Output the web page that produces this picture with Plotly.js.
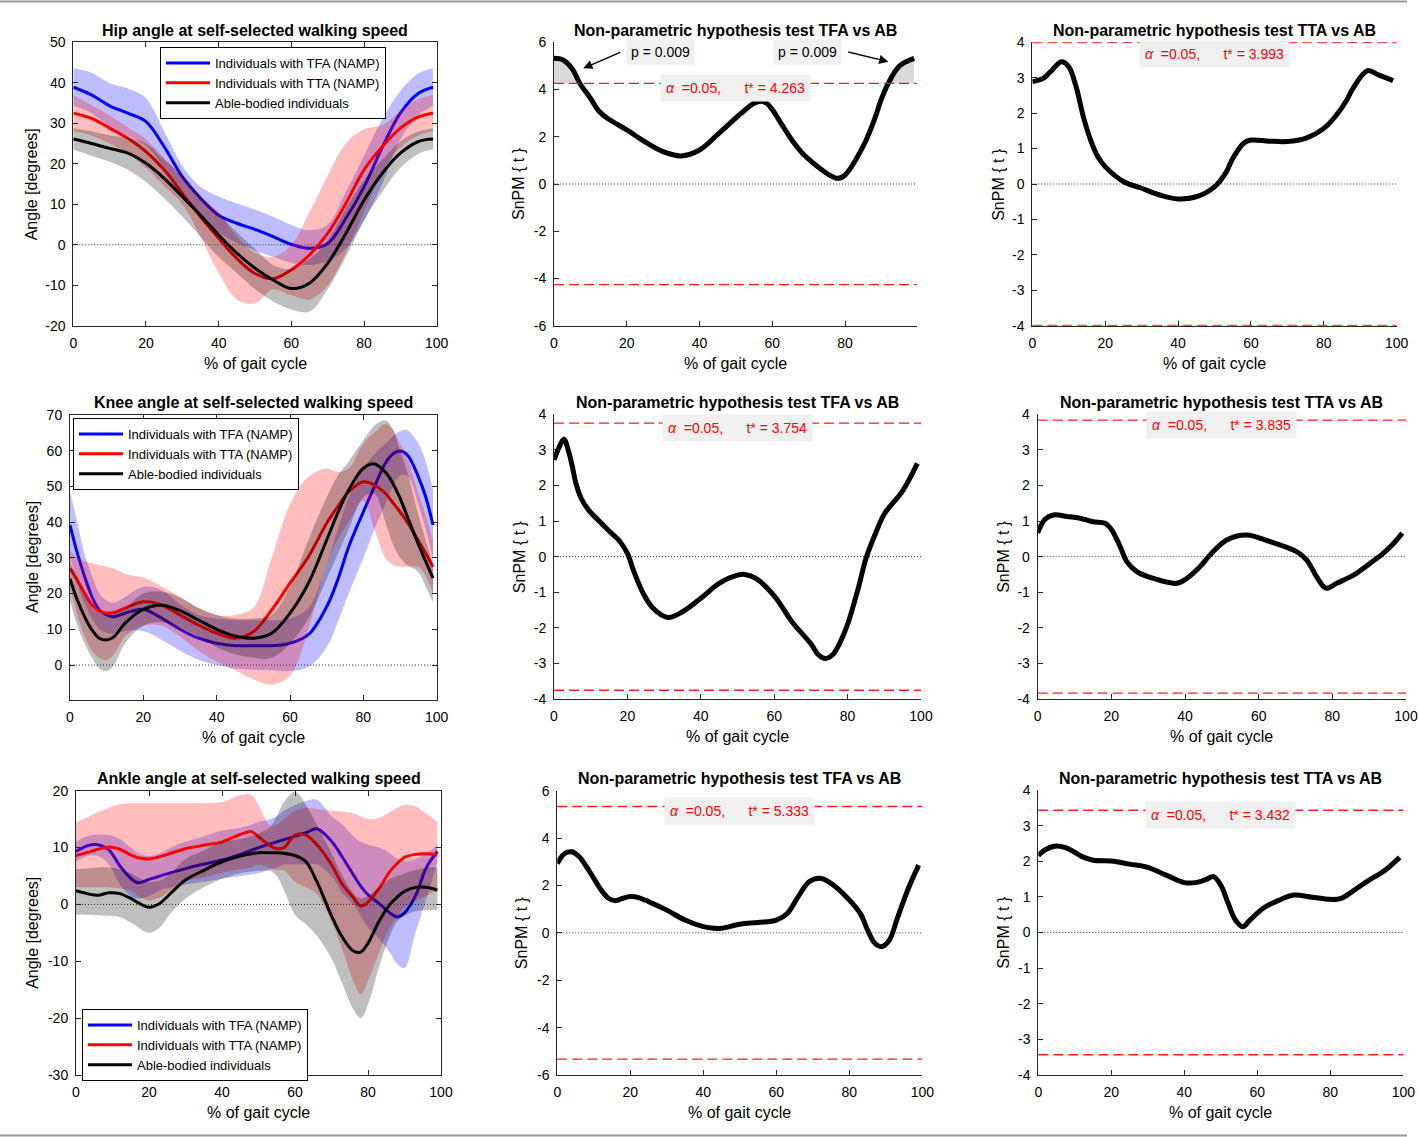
<!DOCTYPE html>
<html><head><meta charset="utf-8">
<script src="https://cdn.plot.ly/plotly-3.0.1.min.js"></script>
<style>html,body{margin:0;padding:0;background:#fff}</style>
</head><body><div id="chart" style="width:1419px;height:1137px"></div>
<script>
// ================= DATA =================
// Hip angle [deg] vs % gait cycle
const hipX = [0,5,10,15,20,25,30,35,40,45,50,55,60,65,70,75,80,85,90,95,99];
const hipTFA   = [38.9,37.0,34.3,32.5,30.4,24.2,16.8,11.5,7.3,5.3,3.8,2.0,0.1,-0.9,0.3,6.5,14.3,24.0,32.5,37.4,38.9];
const hipTFAup = [43.6,42.5,39.9,38.6,36.2,28.0,19.5,14.3,11.9,10.2,8.7,6.9,4.9,3.6,5.0,13.0,22.0,31.0,38.0,42.3,43.6];
const hipTFAlo = [34.3,32.5,29.0,27.0,24.5,19.0,12.5,7.0,3.0,0.5,-1.5,-3.0,-4.5,-5.0,-4.0,-1.0,6.0,15.0,26.0,32.0,34.3];
const hipTTA   = [32.5,31.2,28.8,26.3,23.0,18.5,12.7,6.9,1.6,-3.4,-7.1,-8.4,-6.2,-2.5,2.8,10.2,18.5,24.2,28.8,31.6,32.5];
const hipTTAup = [37.0,34.5,32.0,29.0,26.0,21.5,17.0,12.0,8.0,2.0,-2.0,-3.0,0.0,8.0,17.0,25.0,28.5,29.5,33.0,36.0,37.0];
const hipTTAlo = [28.0,27.0,25.0,22.5,19.0,14.5,10.0,2.0,-7.0,-13.5,-14.5,-11.0,-12.5,-13.5,-10.0,-2.0,8.0,18.0,24.0,27.0,28.0];
const hipAB    = [26.1,25.0,23.8,22.6,20.1,16.4,11.9,7.3,2.4,-2.1,-5.8,-8.7,-10.8,-9.5,-4.6,2.8,11.0,17.6,22.6,25.5,26.1];
const hipABup  = [28.8,28.0,27.0,26.5,25.0,21.0,17.0,12.0,7.5,3.0,-1.0,-5.0,-6.0,-3.5,1.0,9.0,16.0,21.0,25.5,28.0,28.8];
const hipABlo  = [23.5,22.0,20.5,18.5,15.5,11.5,7.0,2.0,-3.0,-7.0,-11.0,-14.0,-16.0,-16.5,-11.0,-3.0,6.0,13.0,19.0,22.5,23.5];

// Knee angle [deg]
const kneeX = [0,2,4,6,8,10,12,15,20,25,30,35,40,45,50,55,60,65,70,73,76,80,83,86,88,90,92,95,97,99];
const kneeTFA   = [39.2,31.3,24.7,19.1,15.4,14.0,13.5,14.5,15.6,13.1,10.0,7.5,6.1,5.4,5.4,5.4,6.1,8.5,16.3,23.8,33.1,42.9,49.9,56.5,59.1,59.9,58.8,52.7,47.1,39.2];
const kneeTFAup = [48.5,40,31,25,20,18,17.5,19,21.9,21,17,14,13,12.5,12.5,12.5,13,16,28,38,47,55,59,62,64,65.5,65.7,62,57,49];
const kneeTFAlo = [30,23,17,13,10,9,8.8,9.5,9.5,7,4,1.5,0,-1,-1.3,-1.5,-1.7,-0.5,5,12,20,30,38,45,50,53,53,45,38,30];
const kneeTTA   = [27.1,23.8,20.1,16.8,15.1,14.5,14.7,15.9,17.7,16.8,14.0,11.2,8.9,7.5,9.3,15.4,22.9,30.3,39.7,44.3,48.5,51.3,50.4,48.1,45.5,42.9,39.9,34.8,31.3,27.5];
const kneeTTAup = [32,30,29,28.5,28,27.5,27,25.5,24.5,22,19,16,14,14,16,30,45,52.7,55,54,55,62,65,67.5,66,62,58,48,42,35];
const kneeTTAlo = [22,14,8,4,2,1.3,3,8,11,11,8,4,1,-1.5,-4,-5.5,-3,10,28,35,40,46,38,30,28,27.5,27.5,27.5,25,20];
const kneeAB    = [24.1,18.2,13.5,9.8,7.5,7.0,7.9,11.7,15.6,16.7,15.2,12.6,10.0,8.1,7.5,8.9,14.5,22.9,35.0,42.5,49.0,55.1,56.3,54,50.9,46.7,41.5,33.8,29,24.3];
const kneeABup  = [29,24,19.5,16,14.5,14,14.5,16,20,20.5,19,16,14,13,13,14,22,35,47,53,57,63,67,68.5,66,60,54,42,35,28];
const kneeABlo  = [18,11,6,2,-1,-1.7,0,6,11,12,10.5,8,5,3,2,2,6,13,24,31,38,47,48,40,34,30,28,26,22,17.5];

// Ankle angle [deg]
const ankX = [0,3,6,9,12,15,17,20,23,26,30,35,40,45,48,50,53,55,57,60,63,66,70,73,76,78,80,83,86,88,90,93,96,99];
const ankTFA   = [9.3,10.3,10.5,9.6,6.8,4.6,3.8,4.4,5.0,5.6,6.3,7.1,7.8,8.8,9.5,10.0,10.6,11.0,11.4,12.0,12.6,13.3,11.1,8.3,5.2,3.2,1.7,0.2,-1.5,-2.2,-1.5,1.5,6.5,9.3];
const ankTFAup = [11,12,12.3,12.2,11.5,10,9,8.5,9,10,11,12,13,13.5,14,14.5,15,15.5,16.5,17.5,18.2,18.4,15.5,14,12,11,10.5,10,9,8,7.6,8,9,10.5];
const ankTFAlo = [7.5,8.5,8.5,7,3.5,1.5,1,1.5,2.5,3,3.5,4,4.5,5,5.3,5.5,6.1,6.5,7,7,7,7,5,2,0,-2,-4,-6,-8.5,-10.5,-11.2,-5,1,7.5];
const ankTTA   = [8.6,9.1,9.7,10.1,9.7,8.7,8.2,8.0,8.4,9.0,9.8,10.4,11.0,12.3,12.8,11.9,10.4,9.8,10.0,12.2,12.2,10.5,7.0,3.5,1.2,-0.3,0.4,2.8,5.8,7.2,8.3,8.8,8.9,8.7];
const ankTTAup = [14.5,15.3,16.2,17,17.6,17.8,17.8,17.8,17.8,17.8,17.8,17.8,18,19.2,19.3,17.5,14,14,15,16.5,17,16.8,16.5,16.3,16,15.5,15,15.2,16.2,17,17.5,17.2,16,14.5];
const ankTTAlo = [3,3,3,3,2.8,2.4,1.5,0.7,1.2,2.5,4.1,4.7,5.6,6.2,6.5,7,6.4,6,6,4,3,1.8,-3,-8,-13.5,-15.8,-13.5,-8.5,-4,-2.3,-0.5,0.6,1.5,2.5];
const ankAB    = [2.4,1.9,1.6,2.05,1.9,1.05,0.3,-0.5,0.2,2.0,4.3,6.0,7.5,8.5,8.9,9.1,9.1,9.1,9.0,8.6,7.5,4.0,-2.0,-5.8,-8.2,-8.4,-6.8,-3.0,0.0,1.3,2.3,3.0,3.0,2.5];
const ankABup  = [6.2,6.3,6.5,6.5,6.2,5.5,4.8,4,4.2,5.5,8,9.5,11,11.5,12,12.5,13.5,15.5,18,19.8,17.5,14,9,5,2,1,1.5,3,4.5,5,5.5,6,6.5,6.5];
const ankABlo  = [-1.8,-1.8,-1.9,-2,-2.2,-3.2,-4,-5,-4,-1.5,1,3,4.5,5.5,5.8,5.9,5.9,5,2.5,-1.8,-3.5,-5.5,-9.5,-14,-18.5,-20,-17.6,-11,-5.5,-3,-2,-1.2,-1,-1];

// SnPM {t} curves
const spmHipTFAx = [0,2.5,5,7,10,12.5,15,20,25,30,35,40,45,50,53,55,57,58.5,60,62.5,65,68,70,75,78,80,85,88,90,92,95,99];
const spmHipTFAy = [5.32,5.25,4.88,4.29,3.63,3.06,2.75,2.29,1.79,1.37,1.19,1.44,2.1,2.8,3.2,3.42,3.5,3.42,3.15,2.55,1.95,1.35,1.05,0.45,0.24,0.38,1.6,2.7,3.6,4.3,5.0,5.32];
const spmHipTTAx = [0,3,5,8,10,12,14,16,18,20,25,30,35,40,45,50,53,55,58,60,65,70,75,80,83.5,86.3,88,92,95,99];
const spmHipTTAy = [2.89,2.98,3.17,3.45,3.31,2.75,1.9,1.24,0.77,0.49,0.07,-0.12,-0.31,-0.42,-0.36,-0.08,0.3,0.72,1.15,1.24,1.21,1.2,1.29,1.57,1.95,2.37,2.7,3.2,3.08,2.92];
const spmKneeTFAx = [0,1.5,2.7,4,5,6,7.5,9.5,12.5,15,18,20,21.6,24.3,27,31,35,40,45,50,52,55,60,65,70,72,74,76,78,80,83,85,88,90,95,99];
const spmKneeTFAy = [2.72,3.1,3.3,2.95,2.53,2.05,1.62,1.3,0.98,0.72,0.42,0.09,-0.37,-1.03,-1.45,-1.71,-1.55,-1.17,-0.75,-0.52,-0.5,-0.61,-1.1,-1.85,-2.45,-2.75,-2.86,-2.75,-2.4,-1.9,-0.85,-0.05,0.75,1.2,1.85,2.62];
const spmKneeTTAx = [0,2,4.3,8,11.5,15,18.3,20.1,22.4,24.2,26.9,31.4,37.7,40.5,44.1,46.8,51.3,56.7,63.1,70.3,73,75.7,77.6,78.5,81.2,85.7,90.2,93.8,96.6,99];
const spmKneeTTAy = [0.67,1.05,1.17,1.13,1.08,0.98,0.94,0.75,0.28,-0.14,-0.42,-0.61,-0.75,-0.61,-0.28,0.05,0.47,0.61,0.42,0.14,-0.09,-0.56,-0.84,-0.89,-0.75,-0.52,-0.19,0.09,0.37,0.66];
const spmAnkTFAx = [0,2,4,6,8,10,12,14,16,18,20,22,25,30,35,40,43,45,50,55,60,63,66,69,72,75,80,83,85,87,89,91,93,96,99];
const spmAnkTFAy = [2.93,3.35,3.42,3.21,2.79,2.3,1.81,1.46,1.36,1.46,1.53,1.5,1.32,0.96,0.54,0.26,0.19,0.19,0.36,0.44,0.54,0.82,1.53,2.16,2.3,2.09,1.39,0.82,0.12,-0.44,-0.58,-0.3,0.54,1.81,2.86];
const spmAnkTTAx = [0,2,5,8,12,15,20,25,30,35,40,43,46,48,50,52,54,56,58,61.6,66,70,75,80,83,86,90,95,99];
const spmAnkTTAy = [2.16,2.33,2.43,2.36,2.13,2.03,2.01,1.92,1.83,1.61,1.40,1.40,1.49,1.57,1.33,0.82,0.35,0.16,0.35,0.68,0.91,1.05,0.99,0.93,0.96,1.15,1.43,1.75,2.11];

// critical thresholds t*
const tCrit = [4.263, 3.993, 3.754, 3.835, 5.333, 3.432];
const alphaLevel = 0.05;
// supra-threshold cluster p-values (hip, TFA vs AB)
const clusterP = [0.009, 0.009];

// texts
const seriesNames = ['Individuals with TFA (NAMP)','Individuals with TTA (NAMP)','Able-bodied individuals'];
const jointTitles = ['Hip angle at self-selected walking speed','Knee angle at self-selected walking speed','Ankle angle at self-selected walking speed'];
const testTitles = ['Non-parametric hypothesis test TFA vs AB','Non-parametric hypothesis test TTA vs AB'];
const xTitle = '% of gait cycle';
const yTitleJoint = 'Angle [degrees]';
const yTitleSpm = 'SnPM { t }';

// tick labels
const xTicks100 = [0,20,40,60,80,100];
const xTicks80 = [0,20,40,60,80];
const hipYTicks = [-20,-10,0,10,20,30,40,50];
const kneeYTicks = [0,10,20,30,40,50,60,70];
const ankYTicks = [-30,-20,-10,0,10,20];
const spm6Ticks = [-6,-4,-2,0,2,4,6];
const spm4Ticks = [-4,-3,-2,-1,0,1,2,3,4];

// ================= STYLE / LAYOUT =================
const W = 1419, H = 1137;
const FONT = 'Liberation Sans, Arial, Helvetica, sans-serif';
const AXC = '#262626';
const COL = ['rgb(0,0,255)','rgb(255,0,0)','rgb(0,0,0)'];
const FILL = ['rgba(0,0,255,0.26)','rgba(255,0,0,0.26)','rgba(0,0,0,0.25)'];

// panel pixel frames [left, right, top, bottom]
const frames = [
  [73.3,436.7,42.3,325.7],[554,916.7,42.3,325.7],[1032.3,1396.7,42.3,325.7],
  [70,436.7,415,700],[554,921,414.3,699],[1037.7,1406,414.3,699],
  [76,441,790.7,1075],[557.3,922.3,790.7,1075],[1038.3,1403.3,790,1075]
];
const xr = [[0,100],[0,99.7],[0,100],[0,100],[0,100],[0,100],[0,100],[0,100],[0,100]];
const yr = [[-20,50],[-6,6],[-4,4],[-9.8,70],[-4,4],[-4,4],[-30,20],[-6,6],[-4,4]];
const xtk = [xTicks100,xTicks80,xTicks100,xTicks100,xTicks100,xTicks100,xTicks100,xTicks100,xTicks100];
const ytk = [hipYTicks,spm6Ticks,spm4Ticks,kneeYTicks,spm4Ticks,spm4Ticks,ankYTicks,spm6Ticks,spm4Ticks];
const isBox = [true,false,false,true,false,false,true,false,false];
const yTitleShift = [42,36,34.5,37.5,34.5,34.5,43,35,35];

const layout = {
  width: W, height: H, margin:{l:0,r:0,t:0,b:0},
  paper_bgcolor:'#fff', plot_bgcolor:'#fff',
  font:{family:FONT, size:14, color:'#000'},
  showlegend:true, hovermode:false,
  annotations:[], shapes:[]
};
function sfx(i){ return i===0 ? '' : String(i+1); }
frames.forEach((f,i)=>{
  const s = sfx(i);
  const common = {
    showgrid:false, zeroline:false, showline:true, linecolor:AXC, linewidth:1,
    ticks:'inside', ticklen:5, tickwidth:1, tickcolor:AXC,
    mirror: isBox[i] ? 'ticks' : false,
    tickfont:{size:14, color:'#000', family:FONT}, fixedrange:true
  };
  layout['xaxis'+s] = Object.assign({}, common, {
    domain:[f[0]/W, f[1]/W], range:xr[i], anchor:'y'+s, ticklabelstandoff:4,
    tickmode:'array', tickvals:xtk[i], ticktext:xtk[i].map(String)
  });
  layout['yaxis'+s] = Object.assign({}, common, {
    domain:[1-f[3]/H, 1-f[2]/H], range:yr[i], anchor:'x'+s, ticklabelstandoff:4,
    tickmode:'array', tickvals:ytk[i], ticktext:ytk[i].map(String)
  });
  const row = Math.floor(i/3), col = i%3;
  const title = col===0 ? jointTitles[row] : testTitles[col-1];
  layout.annotations.push({xref:'x'+s+' domain', yref:'y'+s+' domain', x:0.5, y:1, yanchor:'bottom', xanchor:'center',
    yshift:1.5, showarrow:false, text:'<b>'+title+'</b>', font:{size:16, family:FONT, color:'#000'}});
  layout.annotations.push({xref:'x'+s+' domain', yref:'y'+s+' domain', x:0.5, y:0, yanchor:'middle', xanchor:'center',
    yshift:-37.5, showarrow:false, text:xTitle, font:{size:16, family:FONT, color:'#000'}});
  layout.annotations.push({xref:'x'+s+' domain', yref:'y'+s+' domain', x:0, y:0.5, yanchor:'middle', xanchor:'center',
    xshift:-yTitleShift[i], textangle:-90, showarrow:false, text: col===0 ? yTitleJoint : yTitleSpm,
    font:{size:16, family:FONT, color:'#000'}});
  layout.shapes.push({type:'line', xref:'x'+s+' domain', x0:0, x1:1, yref:'y'+s, y0:0, y1:0, layer:'below',
    line:{color:'#333', width:1, dash:'1px,2px'}});
});

// frame lines top & bottom of figure
layout.shapes.push({type:'line', xref:'paper', yref:'paper', x0:0, x1:1407/W, y0:1-1.5/H, y1:1-1.5/H, line:{color:'#9a9a9a', width:2}});
layout.shapes.push({type:'line', xref:'paper', yref:'paper', x0:0, x1:1407/W, y0:1-1135.5/H, y1:1-1135.5/H, line:{color:'#9a9a9a', width:2}});

// legends
const legBase = {xanchor:'left', yanchor:'top', bgcolor:'#fff', bordercolor:'#000', borderwidth:1,
  font:{size:13, family:FONT, color:'#000'}, itemwidth:44, tracegroupgap:0, traceorder:'normal'};
layout.legend  = Object.assign({}, legBase, {x:160/W, y:1-47/H});
layout.legend2 = Object.assign({}, legBase, {x:73/W,  y:1-418/H});
layout.legend3 = Object.assign({}, legBase, {x:82/W,  y:1-1009/H});

// ================= TRACES =================
const traces = [];
function addJoint(panelIdx, legendName, x, groups){
  const s = sfx(panelIdx);
  groups.forEach((g,k)=>{
    traces.push({x:x, y:g[1], xaxis:'x'+s, yaxis:'y'+s, mode:'lines', line:{width:0, shape:'spline'},
      showlegend:false, hoverinfo:'skip'});
    traces.push({x:x, y:g[2], xaxis:'x'+s, yaxis:'y'+s, mode:'lines', line:{width:0, shape:'spline'},
      fill:'tonexty', fillcolor:FILL[k], showlegend:false, hoverinfo:'skip'});
    traces.push({x:x, y:g[0], xaxis:'x'+s, yaxis:'y'+s, mode:'lines', name:seriesNames[k],
      line:{width:3, color:COL[k], shape:'spline'}, legend:legendName, showlegend:true});
  });
}
addJoint(0,'legend', hipX, [[hipTFA,hipTFAlo,hipTFAup],[hipTTA,hipTTAlo,hipTTAup],[hipAB,hipABlo,hipABup]]);
addJoint(3,'legend2', kneeX, [[kneeTFA,kneeTFAlo,kneeTFAup],[kneeTTA,kneeTTAlo,kneeTTAup],[kneeAB,kneeABlo,kneeABup]]);
addJoint(6,'legend3', ankX, [[ankTFA,ankTFAlo,ankTFAup],[ankTTA,ankTTAlo,ankTTAup],[ankAB,ankABlo,ankABup]]);

// supra-threshold shading for hip TFA vs AB
function supra(x, y, t){
  const xs=[], ys=[];
  for(let i=0;i<x.length;i++){
    if(i>0 && (y[i-1]-t)*(y[i]-t)<0){
      const xc = x[i-1] + (t-y[i-1])*(x[i]-x[i-1])/(y[i]-y[i-1]);
      xs.push(xc); ys.push(t);
    }
    xs.push(x[i]); ys.push(Math.max(y[i], t));
  }
  return [xs, ys];
}
const spm = [
  [1, spmHipTFAx, spmHipTFAy, 0],
  [2, spmHipTTAx, spmHipTTAy, 1],
  [4, spmKneeTFAx, spmKneeTFAy, 2],
  [5, spmKneeTTAx, spmKneeTTAy, 3],
  [7, spmAnkTFAx, spmAnkTFAy, 4],
  [8, spmAnkTTAx, spmAnkTTAy, 5]
];
spm.forEach(([pi, x, y, ti])=>{
  const s = sfx(pi), t = tCrit[ti];
  if(ti===0){
    const [xs, ys] = supra(x, y, t);
    traces.push({x:xs, y:xs.map(()=>t), xaxis:'x'+s, yaxis:'y'+s, mode:'lines', line:{width:0}, showlegend:false, hoverinfo:'skip'});
    traces.push({x:xs, y:ys, xaxis:'x'+s, yaxis:'y'+s, mode:'lines', line:{width:0}, fill:'tonexty',
      fillcolor:'rgb(217,217,217)', showlegend:false, hoverinfo:'skip'});
  }
  traces.push({x:x, y:y, xaxis:'x'+s, yaxis:'y'+s, mode:'lines', line:{width:5, color:'#000', shape:'spline'},
    showlegend:false, hoverinfo:'skip'});
  [t, -t].forEach(v=>{
    layout.shapes.push({type:'line', xref:'x'+s+' domain', x0:0, x1:1, yref:'y'+s, y0:v, y1:v, layer:'above',
      line:{color:'rgb(255,30,30)', width:1.3, dash:'10px,5px'}});
  });
  const sp = '\u00a0';
  layout.annotations.push({xref:'x'+s+' domain', yref:'y'+s, x:0.5, y:t, xanchor:'center', yanchor:'middle',
    yshift: ti===1 ? -11.5 : -4.5, showarrow:false, bgcolor:'rgb(240,240,240)', borderpad:5,
    text:'<i>α</i>'+sp+sp+'='+alphaLevel.toFixed(2)+','+sp.repeat(6)+'t* = '+t.toFixed(3),
    font:{size:14, family:FONT, color:'rgb(255,0,0)'}});
});

// p-value labels with arrows (hip, TFA vs AB)
const pLabelPos = [[29.4,5.6],[69.6,5.6]];
const pArrowTip = [[8.05,4.9],[91.9,5.18]];
const pArrowTail = [[38.4,-16.6],[-41.6,-10]];
clusterP.forEach((p,k)=>{
  layout.annotations.push({xref:'x2', yref:'y2', x:pLabelPos[k][0], y:pLabelPos[k][1], xanchor:'center', yanchor:'middle',
    showarrow:false, bgcolor:'rgb(240,240,240)', borderpad:4, text:'p = '+p.toFixed(3),
    font:{size:14, family:FONT, color:'#000'}});
  layout.annotations.push({xref:'x2', yref:'y2', x:pArrowTip[k][0], y:pArrowTip[k][1], text:'', showarrow:true,
    ax:pArrowTail[k][0], ay:pArrowTail[k][1], arrowhead:2, arrowsize:1.3, arrowwidth:1.4, arrowcolor:'#000'});
});

Plotly.newPlot('chart', traces, layout, {displayModeBar:false, staticPlot:true});
</script>
</body></html>
